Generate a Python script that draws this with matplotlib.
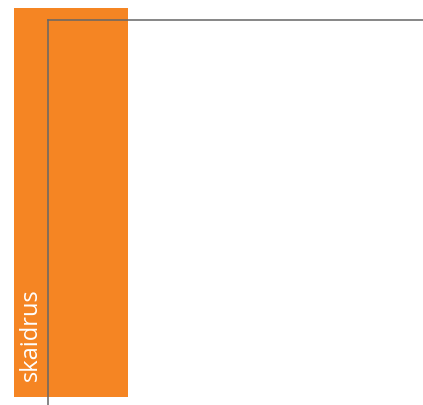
import matplotlib
matplotlib.use("Agg")
import matplotlib.pyplot as plt

categories = ["skaidrus"]
values = [1.0]

W, H = 423, 405
fig = plt.figure(figsize=(W / 100, H / 100), dpi=100)

# orange bar
ax = fig.add_axes([14 / W, 8 / H, 114 / W, 389 / H])
ax.bar(range(len(categories)), values, width=1.0, color="#f58523")
ax.set_xlim(-0.5, 0.5)
ax.set_ylim(0, max(values))
ax.axis("off")
for i, c in enumerate(categories):
    ax.text(i - 0.35, 0.04, c, rotation=90, ha="center", va="bottom",
            color="white", fontsize=17, family="Open Sans")

# frame lines (left + top)
ax2 = fig.add_axes([48 / W, 0, 375 / W, 385 / H])
ax2.patch.set_alpha(0)
for s in ["right", "bottom"]:
    ax2.spines[s].set_visible(False)
for s in ["left", "top"]:
    ax2.spines[s].set_color("#666666")
    ax2.spines[s].set_linewidth(1.1)
ax2.set_xticks([])
ax2.set_yticks([])

fig.savefig("out.png", dpi=100)
